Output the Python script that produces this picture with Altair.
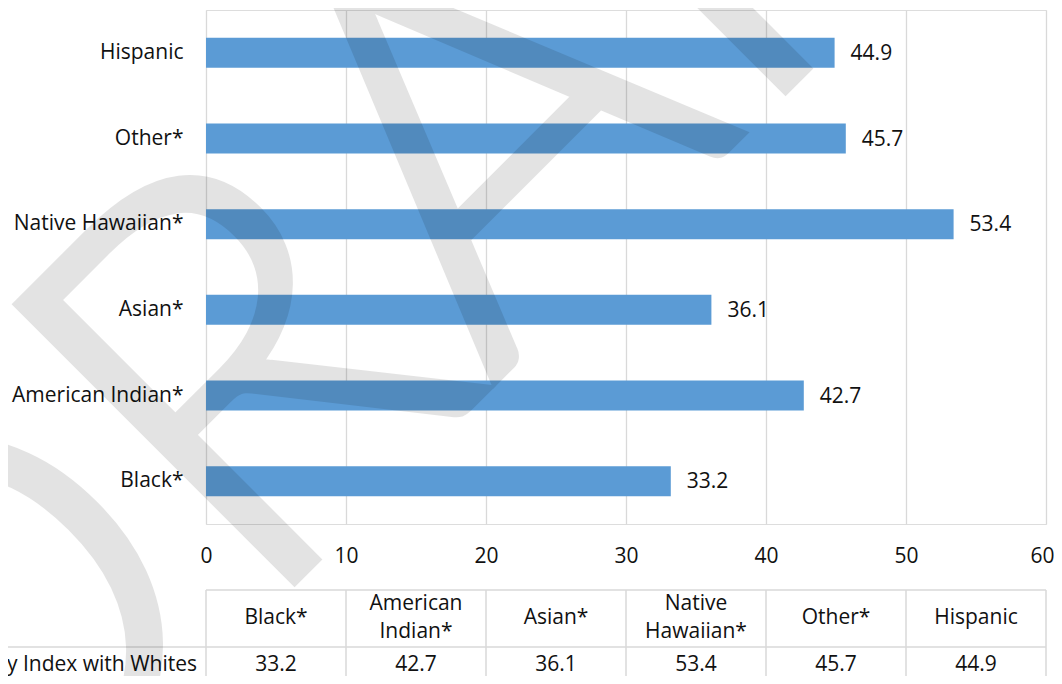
import altair as alt
import pandas as pd

# ---- data ----
categories = ["Black*", "American Indian*", "Asian*", "Native Hawaiian*", "Other*", "Hispanic"]
values = [33.2, 42.7, 36.1, 53.4, 45.7, 44.9]
header_labels = ["Black*", "American\nIndian*", "Asian*", "Native\nHawaiian*", "Other*", "Hispanic"]
row_label = ["Dissimilarity Index with Whites"]
x_ticks = [0, 10, 20, 30, 40, 50, 60]
watermark = ["DRAFT"]

# ---- tables built from the arrays ----
df = pd.DataFrame({"cat": categories, "value": values, "header": header_labels})
df["col"] = [i * 10 + 5 for i in range(len(categories))]
df["label"] = df["value"].map(lambda v: f"{v:.1f}")
df["multi"] = df["header"].str.contains("\n")
bounds = pd.DataFrame({"b": [i * 10 for i in range(len(categories) + 1)]})
one = pd.DataFrame({"t": watermark})
rowlab = pd.DataFrame({"t": row_label})

W, H = 840, 514
FONT = "Open Sans"
BLUE = "#5b9bd5"
GRID = "#d9d9d9"
TXT = "#111111"
FS = 21

xscale = alt.Scale(domain=[0, 60], nice=False)
xaxis = alt.Axis(values=x_ticks, grid=True, gridColor=GRID, gridWidth=1.3, ticks=False,
                 domain=False, labelFontSize=FS, labelPadding=21, labelColor=TXT,
                 title=None, labelFlush=False, labelFont=FONT,
                 labelOffset={"expr": "datum.value == 60 ? -4 : 0"})
ysort = categories[::-1]
yscale = alt.Scale(type="band", paddingInner=0, paddingOuter=0)
yaxis = alt.Axis(ticks=False, domain=False, labelFontSize=FS, labelPadding=23,
                 labelColor=TXT, title=None, grid=False, labelFont=FONT)


def X(field):
    return alt.X(field, scale=xscale, axis=xaxis)


Y = alt.Y("cat:N", sort=ysort, scale=yscale, axis=yaxis)

base = alt.Chart(df)

bars = base.mark_bar(color=BLUE, size=30).encode(x=X("value:Q"), y=Y)

labels = base.mark_text(align="left", baseline="middle", dx=16, dy=1, fontSize=FS,
                        font=FONT, color=TXT).encode(x=X("value:Q"), y=Y, text="label:N")

# data table below the chart
vlines = alt.Chart(bounds).mark_rule(color=GRID, strokeWidth=1.5).encode(
    x=X("b:Q"), y=alt.value(580), y2=alt.value(720))
top_line = alt.Chart(one).mark_rule(color=GRID, strokeWidth=1.5).encode(
    x=alt.value(0), x2=alt.value(W), y=alt.value(580))
mid_line = alt.Chart(one).mark_rule(color=GRID, strokeWidth=1.5).encode(
    x=alt.value(-210), x2=alt.value(W), y=alt.value(637))

hdr_kw = dict(align="center", baseline="middle", fontSize=FS, font=FONT,
              color=TXT, lineBreak="\n", lineHeight=28)
headers1 = base.transform_filter("!datum.multi").mark_text(**hdr_kw).encode(
    x=X("col:Q"), y=alt.value(608), text="header:N")
headers2 = base.transform_filter("datum.multi").mark_text(**hdr_kw).encode(
    x=X("col:Q"), y=alt.value(594), text="header:N")
cells = base.mark_text(align="center", baseline="middle", fontSize=FS, font=FONT,
                       color=TXT).encode(x=X("col:Q"), y=alt.value(655), text="label:N")
row_text = alt.Chart(rowlab).mark_text(align="right", baseline="middle", fontSize=FS,
                                       font=FONT, color=TXT).encode(
    x=alt.value(-9), y=alt.value(655), text="t:N")

wm = alt.Chart(one).mark_text(angle=315, fontSize=550, font="Lato", fontWeight=300,
                              color="#000000", stroke="#000000", strokeWidth=11,
                              strokeJoin="miter", opacity=0.105, align="center",
                              baseline="alphabetic").encode(
    x=alt.value(368), y=alt.value(290), text="t:N")

chart = alt.layer(bars, labels, vlines, top_line, mid_line, headers1, headers2, cells,
                  row_text, wm).properties(
    width=W, height=H,
    autosize=alt.AutoSizeParams(type="none"),
    padding={"left": 198, "top": 2, "right": 8, "bottom": 152},
).configure_view(stroke=None).configure(font=FONT)

chart.save("out.html", embed_options={"renderer": "svg", "actions": False})
